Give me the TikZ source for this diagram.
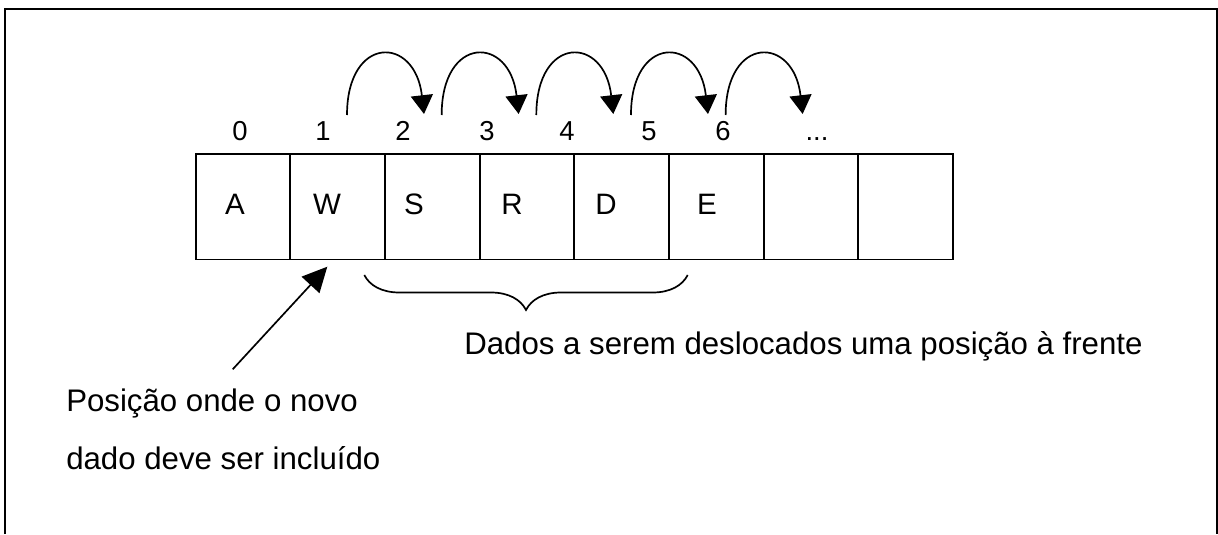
\documentclass[tikz,border=0pt]{standalone}
\usepackage{fontspec}
\setmainfont{Liberation Sans}
\usetikzlibrary{arrows.meta,decorations.pathreplacing}
\begin{document}
\begin{tikzpicture}[
  cell/.style={draw,line width=1.3pt,minimum width=2.3665cm,minimum height=2.6375cm,inner sep=0pt,outer sep=0pt},
  idx/.style={anchor=base,inner sep=0pt,font=\fontsize{19.5}{19.5}\selectfont},
  val/.style={inner sep=0pt,font=\fontsize{21}{21}\selectfont},
  lbl/.style={anchor=base west,inner sep=0pt,font=\fontsize{22.2}{22.2}\selectfont},
  hop/.style={line width=1.2pt,-{Triangle[length=0.47cm,width=0.55cm]}}]
\useasboundingbox (0,0) rectangle (30.45,13.35);
\draw[line width=1.6pt] (0.125,0) -- (0.125,13.125) -- (30.425,13.125) -- (30.425,0);
% the vector
\foreach \i in {0,...,7}
  \node[cell] (c\i) at (6.0758+\i*2.3665,8.18125) {};
\foreach \x/\t [count=\k] in {5.875/A,8.175/W,10.35/S,12.8/R,15.15/D,17.675/E}
  \node[val] (v\k) at (\x,8.25) {\t};
\foreach \x/\t in {6.0/0,8.075/1,10.075/2,12.175/3,14.175/4,16.225/5,18.075/6}
  \node[idx] (n\t) at (\x,9.85) {\t};
\node[idx] (n7) at (20.425,9.85) {...};
% shifts one position ahead
\foreach \i in {0,...,4} {
  \coordinate (s\i) at (8.675+\i*2.3665,10.475);
  \coordinate (t\i) at (10.6+\i*2.3665,10.5);
  \draw[hop] (s\i) .. controls +(0,2) and +(-0.225,1.975) .. (t\i);
}
\draw[line width=1.2pt,decorate,decoration={brace,mirror,amplitude=0.875cm}] (9.1075,6.475) -- (17.1925,6.475);
\node[lbl] (d) at (11.6,4.5) {Dados a serem deslocados uma posição à frente};
% insertion point
\node[lbl] (p1) at (1.65,3.06) {Posição onde o novo};
\node[lbl] (p2) at (1.65,1.625) {dado deve ser incluído};
\coordinate (tail) at (5.8175,4.1175);
\coordinate (head) at (8.1825,6.6825);
\draw[line width=1.2pt,-{Triangle[length=0.62cm,width=0.6cm]}] (tail) -- (head);
\end{tikzpicture}
\end{document}
